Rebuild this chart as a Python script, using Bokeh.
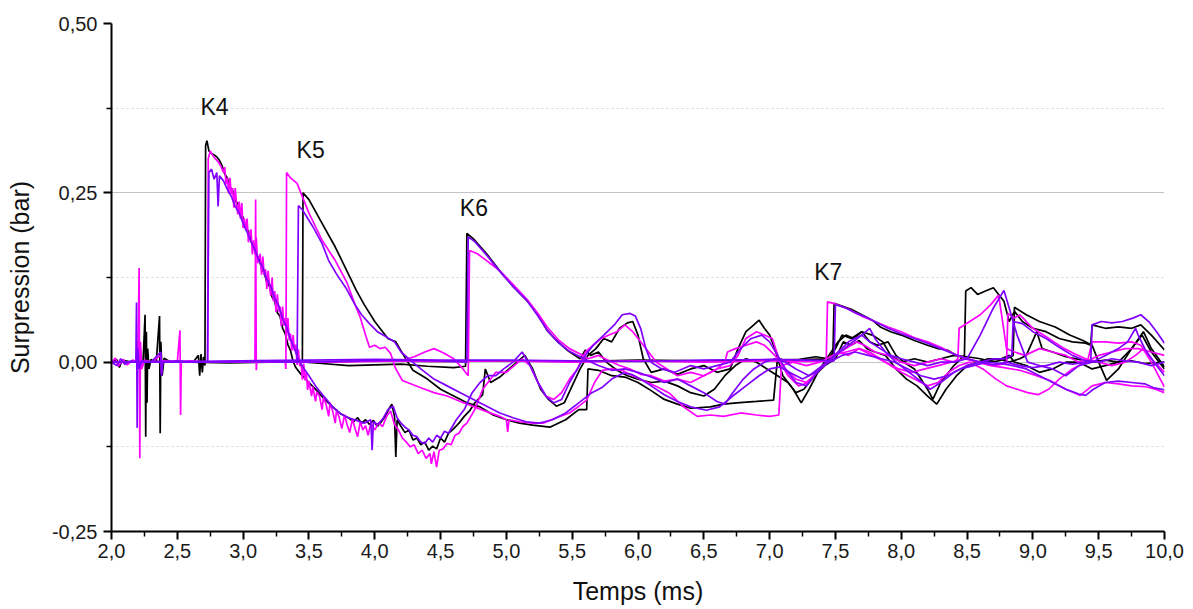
from bokeh.plotting import figure
from bokeh.models import FixedTicker, Range1d, CustomJSTickFormatter
from bokeh.embed import file_html
from bokeh.resources import INLINE
from bokeh.core.properties import value

# ---------------- data (time in ms, overpressure in bar) ----------------
k4_black = [(2.00,0.000),(2.04,0.004),(2.06,-0.008),(2.08,0.003),(2.15,0.000),(2.24,0.002),(2.255,0.070),(2.26,-0.110),(2.265,0.045),(2.27,-0.060),(2.275,0.020),(2.285,-0.010),(2.30,0.004),(2.34,0.000),(2.365,0.068),(2.37,-0.105),(2.375,0.030),(2.385,-0.020),(2.40,0.006),(2.45,0.000),(2.62,0.000),(2.66,0.010),(2.67,-0.020),(2.68,0.012),(2.69,-0.015),(2.70,0.008),(2.71,-0.005),(2.715,0.320),(2.725,0.327),(2.74,0.312),(2.76,0.308),(2.78,0.306),(2.80,0.303),(2.82,0.298),(2.84,0.290),(2.86,0.278),(2.88,0.272),(2.90,0.258),(2.92,0.254),(2.94,0.238),(2.96,0.234),(2.98,0.218),(3.00,0.214),(3.02,0.198),(3.04,0.194),(3.06,0.178),(3.08,0.174),(3.10,0.158),(3.12,0.154),(3.14,0.138),(3.16,0.132),(3.18,0.118),(3.20,0.112),(3.22,0.096),(3.24,0.090),(3.26,0.073),(3.28,0.068),(3.30,0.050),(3.32,0.042),(3.34,0.026),(3.36,0.017),(3.38,0.001),(3.40,-0.008),(3.44,-0.018),(3.50,-0.030),(3.56,-0.042),(3.62,-0.055),(3.68,-0.066),(3.74,-0.076),(3.80,-0.082),(3.84,-0.088),(3.87,-0.082),(3.90,-0.090),(3.93,-0.085),(3.96,-0.092),(3.99,-0.086),(4.02,-0.095),(4.05,-0.088),(4.08,-0.080),(4.11,-0.068),(4.13,-0.062),(4.15,-0.080),(4.16,-0.140),(4.17,-0.085),(4.20,-0.095),(4.23,-0.104),(4.26,-0.100),(4.29,-0.115),(4.32,-0.112),(4.35,-0.122),(4.38,-0.118),(4.41,-0.130),(4.44,-0.124),(4.47,-0.128),(4.50,-0.112),(4.53,-0.118),(4.56,-0.105),(4.60,-0.098),(4.64,-0.090),(4.68,-0.080),(4.72,-0.072),(4.76,-0.060),(4.80,-0.052),(4.82,-0.048),(4.84,-0.010),(4.88,-0.030),(4.95,-0.022),(5.02,-0.010),(5.08,0.000),(5.14,0.010),(5.20,-0.010),(5.26,-0.040),(5.32,-0.055),(5.38,-0.065),(5.44,-0.060),(5.50,-0.035),(5.56,-0.010),(5.62,0.010),(5.68,0.020),(5.74,0.035),(5.80,0.030),(5.86,0.050),(5.92,0.058),(5.96,0.060),(6.00,0.040),(6.04,0.005),(6.10,-0.015),(6.20,-0.010),(6.30,-0.018),(6.40,-0.010),(6.50,-0.005),(6.60,-0.015),(6.70,-0.010),(6.76,0.020),(6.82,0.045),(6.88,0.055),(6.92,0.062),(6.96,0.050),(7.00,0.040),(7.04,0.020),(7.10,-0.020),(7.18,-0.040),(7.24,-0.060),(7.30,-0.040),(7.38,-0.010),(7.45,0.010),(7.52,0.030),(7.58,0.040),(7.64,0.035),(7.70,0.045),(7.76,0.030),(7.82,0.025),(7.90,0.030),(7.96,0.010),(8.02,0.000),(8.10,-0.010),(8.20,-0.040),(8.24,-0.055),(8.30,-0.030),(8.40,-0.005),(8.48,0.010),(8.49,0.105),(8.53,0.110),(8.58,0.100),(8.64,0.105),(8.70,0.110),(8.74,0.100),(8.78,0.090),(8.82,0.060),(8.86,0.075),(8.92,0.060),(9.00,0.050),(9.10,0.045),(9.20,0.035),(9.30,0.030),(9.40,0.028),(9.44,0.025),(9.45,0.055),(9.55,0.050),(9.65,0.052),(9.75,0.050),(9.82,0.055),(9.90,0.040),(10.00,0.018)]

k4_magenta = [(2.00,0.000),(2.03,0.006),(2.05,-0.006),(2.09,0.004),(2.12,-0.004),(2.16,0.003),(2.20,0.000),(2.21,0.139),(2.215,-0.142),(2.22,0.030),(2.23,-0.010),(2.25,0.003),(2.30,0.000),(2.375,0.010),(2.38,-0.016),(2.39,0.002),(2.50,0.000),(2.52,0.047),(2.525,-0.078),(2.53,0.000),(2.60,0.002),(2.70,0.000),(2.73,0.000),(2.735,0.300),(2.75,0.312),(2.77,0.305),(2.79,0.300),(2.81,0.296),(2.83,0.290),(2.85,0.280),(2.86,0.288),(2.87,0.263),(2.88,0.272),(2.89,0.249),(2.90,0.272),(2.91,0.248),(2.92,0.257),(2.93,0.228),(2.94,0.257),(2.95,0.234),(2.96,0.218),(2.97,0.237),(2.98,0.212),(2.99,0.235),(3.00,0.198),(3.01,0.212),(3.02,0.195),(3.03,0.212),(3.04,0.177),(3.05,0.190),(3.06,0.196),(3.07,0.159),(3.08,0.180),(3.09,0.159),(3.10,0.184),(3.11,0.146),(3.12,0.155),(3.13,0.160),(3.14,0.129),(3.15,0.156),(3.16,0.128),(3.17,0.137),(3.18,0.108),(3.19,0.135),(3.20,0.114),(3.21,0.098),(3.22,0.125),(3.23,0.090),(3.24,0.105),(3.25,0.074),(3.26,0.100),(3.27,0.075),(3.28,0.082),(3.29,0.053),(3.30,0.082),(3.31,0.054),(3.32,0.065),(3.33,0.038),(3.34,0.065),(3.35,0.032),(3.36,0.042),(3.37,0.017),(3.38,0.040),(3.39,0.017),(3.40,0.026),(3.41,-0.004),(3.42,0.019),(3.43,-0.006),(3.44,0.001),(3.45,-0.026),(3.46,-0.002),(3.47,-0.027),(3.48,-0.016),(3.49,-0.041),(3.50,-0.028),(3.52,-0.050),(3.53,-0.036),(3.55,-0.058),(3.56,-0.044),(3.58,-0.050),(3.60,-0.070),(3.61,-0.052),(3.63,-0.062),(3.65,-0.080),(3.66,-0.060),(3.68,-0.072),(3.70,-0.090),(3.71,-0.070),(3.73,-0.082),(3.75,-0.098),(3.77,-0.078),(3.79,-0.092),(3.81,-0.104),(3.83,-0.084),(3.85,-0.098),(3.87,-0.110),(3.89,-0.088),(3.91,-0.100),(3.93,-0.094),(3.95,-0.108),(3.97,-0.090),(4.00,-0.100),(4.03,-0.090),(4.06,-0.095),(4.09,-0.080),(4.12,-0.072),(4.15,-0.092),(4.18,-0.100),(4.21,-0.112),(4.24,-0.118),(4.27,-0.125),(4.30,-0.122),(4.33,-0.135),(4.36,-0.130),(4.39,-0.142),(4.42,-0.135),(4.43,-0.150),(4.45,-0.132),(4.47,-0.155),(4.49,-0.130),(4.52,-0.128),(4.55,-0.120),(4.58,-0.122),(4.61,-0.108),(4.64,-0.105),(4.67,-0.095),(4.70,-0.090),(4.73,-0.080),(4.76,-0.070),(4.80,-0.050),(4.82,-0.040),(4.86,-0.030),(4.92,-0.015),(5.00,-0.015),(5.06,-0.005),(5.12,0.005),(5.18,-0.005),(5.24,-0.030),(5.30,-0.050),(5.36,-0.055),(5.42,-0.045),(5.48,-0.025),(5.54,-0.010),(5.60,0.015),(5.66,0.025),(5.72,0.035),(5.78,0.040),(5.84,0.045),(5.90,0.055),(5.96,0.045),(6.02,0.030),(6.08,0.015),(6.14,0.000),(6.22,-0.010),(6.30,-0.020),(6.40,-0.015),(6.50,-0.020),(6.60,-0.010),(6.70,-0.005),(6.76,0.010),(6.82,0.035),(6.90,0.045),(6.96,0.040),(7.02,0.035),(7.08,0.000),(7.14,-0.020),(7.22,-0.035),(7.30,-0.030),(7.40,-0.005),(7.50,0.010),(7.58,0.020),(7.66,0.030),(7.72,0.025),(7.80,0.015),(7.90,0.010),(8.00,0.000),(8.10,-0.005),(8.20,0.000),(8.30,0.005),(8.40,0.000),(8.43,0.005),(8.44,0.050),(8.52,0.060),(8.60,0.070),(8.68,0.085),(8.74,0.099),(8.77,0.060),(8.80,0.020),(8.86,0.015),(8.94,0.010),(9.05,0.020),(9.15,0.015),(9.25,0.010),(9.35,0.000),(9.42,0.005),(9.45,0.030),(9.55,0.030),(9.65,0.028),(9.75,0.030),(9.82,0.025),(9.90,0.000),(10.00,-0.037)]

k4_purple = [(2.00,0.000),(2.04,-0.005),(2.07,0.005),(2.10,-0.003),(2.15,0.002),(2.185,0.000),(2.19,0.088),(2.195,-0.097),(2.20,0.020),(2.21,-0.010),(2.23,0.002),(2.30,0.000),(2.375,0.015),(2.38,-0.020),(2.39,0.000),(2.50,0.002),(2.60,0.000),(2.73,0.000),(2.74,0.280),(2.76,0.285),(2.78,0.270),(2.80,0.280),(2.81,0.230),(2.82,0.275),(2.85,0.268),(2.88,0.255),(2.91,0.245),(2.94,0.230),(2.97,0.220),(3.00,0.205),(3.03,0.192),(3.06,0.178),(3.09,0.166),(3.12,0.150),(3.15,0.140),(3.18,0.122),(3.21,0.112),(3.24,0.094),(3.27,0.084),(3.30,0.064),(3.33,0.052),(3.36,0.034),(3.39,0.020),(3.42,0.004),(3.45,-0.006),(3.50,-0.020),(3.56,-0.038),(3.62,-0.052),(3.68,-0.066),(3.74,-0.076),(3.80,-0.082),(3.86,-0.086),(3.92,-0.090),(3.97,-0.085),(3.98,-0.130),(3.99,-0.088),(4.02,-0.092),(4.06,-0.084),(4.10,-0.070),(4.14,-0.065),(4.17,-0.082),(4.20,-0.090),(4.23,-0.096),(4.26,-0.100),(4.29,-0.108),(4.32,-0.110),(4.35,-0.118),(4.38,-0.120),(4.41,-0.112),(4.44,-0.118),(4.47,-0.108),(4.50,-0.112),(4.53,-0.102),(4.56,-0.105),(4.62,-0.085),(4.68,-0.070),(4.74,-0.045),(4.80,-0.030),(4.86,-0.020),(4.92,-0.020),(4.98,-0.010),(5.05,0.000),(5.12,0.015),(5.18,-0.005),(5.24,-0.030),(5.30,-0.050),(5.36,-0.060),(5.42,-0.055),(5.48,-0.030),(5.54,-0.010),(5.60,0.010),(5.66,0.025),(5.74,0.040),(5.82,0.055),(5.88,0.070),(5.94,0.072),(5.98,0.068),(6.02,0.050),(6.06,0.020),(6.10,0.000),(6.18,-0.010),(6.28,-0.015),(6.40,-0.005),(6.50,-0.010),(6.60,-0.005),(6.70,0.000),(6.78,0.020),(6.86,0.035),(6.94,0.040),(7.00,0.030),(7.06,0.010),(7.12,-0.010),(7.20,-0.030),(7.28,-0.035),(7.36,-0.015),(7.44,0.000),(7.52,0.015),(7.60,0.030),(7.70,0.040),(7.76,0.030),(7.84,0.020),(7.92,0.010),(8.00,0.005),(8.10,0.000),(8.20,-0.005),(8.30,0.000),(8.40,0.000),(8.50,0.005),(8.60,0.040),(8.70,0.080),(8.78,0.106),(8.82,0.080),(8.88,0.040),(8.96,0.000),(9.05,-0.005),(9.15,-0.010),(9.25,-0.020),(9.35,-0.005),(9.45,0.000),(9.55,0.010),(9.65,0.020),(9.72,0.030),(9.78,0.050),(9.80,0.040),(9.85,0.020),(9.92,0.000),(10.00,-0.020)]

k5_black = [(2.00,0.000),(2.30,0.001),(2.60,0.000),(2.90,-0.001),(3.20,0.000),(3.44,0.001),(3.45,0.000),(3.455,0.250),(3.50,0.240),(3.60,0.205),(3.70,0.170),(3.80,0.130),(3.86,0.106),(3.92,0.085),(4.00,0.060),(4.06,0.045),(4.10,0.035),(4.16,0.030),(4.22,0.010),(4.29,-0.012),(4.40,-0.025),(4.50,-0.040),(4.60,-0.050),(4.70,-0.060),(4.80,-0.066),(4.90,-0.078),(5.00,-0.085),(5.10,-0.090),(5.20,-0.093),(5.33,-0.096),(5.45,-0.085),(5.55,-0.070),(5.61,-0.070),(5.62,-0.010),(5.70,-0.012),(5.80,-0.020),(5.90,-0.022),(6.00,-0.030),(6.10,-0.042),(6.20,-0.055),(6.30,-0.062),(6.40,-0.068),(6.55,-0.066),(6.65,-0.062),(6.75,-0.060),(6.90,-0.058),(7.03,-0.056),(7.06,0.006),(7.15,0.000),(7.25,0.005),(7.35,0.008),(7.45,0.005),(7.50,0.020),(7.55,0.040),(7.62,0.035),(7.70,0.045),(7.78,0.040),(7.86,0.030),(7.92,0.010),(8.00,0.000),(8.10,0.005),(8.20,0.000),(8.30,0.005),(8.40,0.010),(8.50,0.008),(8.60,0.005),(8.70,0.000),(8.80,0.005),(8.85,0.010),(8.86,0.081),(8.95,0.070),(9.05,0.060),(9.17,0.052),(9.28,0.040),(9.38,0.032),(9.45,0.025),(9.50,0.000),(9.56,-0.027),(9.65,-0.010),(9.75,0.020),(9.84,0.045),(9.90,0.020),(10.00,-0.007)]

k5_magenta = [(2.00,0.000),(2.40,0.001),(2.80,0.000),(3.09,0.000),(3.095,0.240),(3.10,-0.012),(3.105,0.002),(3.20,0.000),(3.32,0.000),(3.325,-0.010),(3.33,0.280),(3.36,0.272),(3.41,0.264),(3.50,0.220),(3.60,0.180),(3.70,0.150),(3.79,0.117),(3.85,0.085),(3.89,0.066),(3.93,0.040),(3.96,0.022),(4.00,0.025),(4.04,0.020),(4.08,0.022),(4.12,0.013),(4.16,-0.010),(4.21,-0.027),(4.34,-0.037),(4.45,-0.045),(4.55,-0.050),(4.65,-0.058),(4.72,-0.063),(4.85,-0.073),(4.95,-0.080),(5.00,-0.085),(5.01,-0.103),(5.02,-0.085),(5.10,-0.088),(5.20,-0.090),(5.28,-0.090),(5.38,-0.082),(5.48,-0.075),(5.55,-0.065),(5.61,-0.056),(5.67,-0.030),(5.73,-0.012),(5.80,-0.010),(5.88,-0.012),(5.96,-0.020),(6.04,-0.027),(6.14,-0.036),(6.24,-0.046),(6.34,-0.065),(6.45,-0.080),(6.55,-0.078),(6.65,-0.080),(6.78,-0.075),(6.90,-0.078),(7.00,-0.080),(7.07,-0.078),(7.09,-0.005),(7.18,0.000),(7.28,-0.005),(7.38,0.000),(7.48,0.010),(7.58,0.015),(7.68,0.020),(7.78,0.010),(7.88,0.000),(7.98,-0.010),(8.08,-0.015),(8.18,-0.010),(8.28,-0.005),(8.38,0.000),(8.48,0.005),(8.58,0.000),(8.68,-0.005),(8.78,-0.008),(8.90,-0.012),(9.00,-0.018),(9.13,-0.027),(9.25,-0.040),(9.36,-0.049),(9.45,-0.035),(9.55,-0.030),(9.65,-0.032),(9.75,-0.035),(9.85,-0.036),(9.93,-0.040),(10.00,-0.045)]

k5_purple = [(2.00,0.000),(2.40,0.001),(2.80,0.000),(3.10,0.001),(3.41,0.000),(3.42,0.231),(3.45,0.225),(3.53,0.200),(3.60,0.175),(3.65,0.150),(3.71,0.130),(3.78,0.110),(3.85,0.085),(3.90,0.070),(3.96,0.057),(4.02,0.045),(4.09,0.037),(4.15,0.030),(4.20,0.015),(4.27,0.003),(4.35,-0.010),(4.45,-0.025),(4.55,-0.035),(4.65,-0.045),(4.75,-0.055),(4.85,-0.065),(4.95,-0.075),(5.05,-0.082),(5.15,-0.088),(5.25,-0.090),(5.35,-0.085),(5.45,-0.075),(5.55,-0.060),(5.65,-0.045),(5.73,-0.037),(5.80,-0.025),(5.89,-0.016),(5.95,-0.018),(6.02,-0.025),(6.10,-0.035),(6.20,-0.048),(6.30,-0.058),(6.40,-0.066),(6.52,-0.071),(6.62,-0.066),(6.72,-0.050),(6.82,-0.035),(6.92,-0.020),(7.00,-0.010),(7.08,-0.007),(7.15,-0.015),(7.25,-0.025),(7.35,-0.015),(7.45,0.000),(7.55,0.010),(7.65,0.015),(7.75,0.010),(7.85,0.005),(7.95,0.000),(8.05,-0.010),(8.15,-0.020),(8.25,-0.025),(8.35,-0.020),(8.45,-0.010),(8.55,-0.005),(8.65,0.000),(8.75,-0.002),(8.85,-0.005),(8.95,-0.010),(9.05,-0.020),(9.15,-0.030),(9.25,-0.040),(9.35,-0.047),(9.40,-0.049),(9.46,-0.040),(9.55,-0.030),(9.65,-0.028),(9.75,-0.030),(9.85,-0.032),(9.92,-0.038),(10.00,-0.041)]

k6_black = [(2.00,0.000),(2.50,0.001),(3.00,0.000),(3.40,0.001),(3.60,-0.002),(3.80,-0.005),(4.00,-0.004),(4.20,-0.003),(4.40,-0.006),(4.60,-0.008),(4.69,-0.006),(4.70,0.190),(4.75,0.182),(4.85,0.160),(4.95,0.135),(5.05,0.112),(5.16,0.090),(5.24,0.070),(5.31,0.047),(5.38,0.032),(5.46,0.018),(5.52,0.010),(5.56,0.005),(5.60,0.018),(5.64,0.010),(5.70,0.015),(5.76,0.000),(5.84,-0.012),(5.92,-0.020),(6.00,-0.025),(6.10,-0.030),(6.20,-0.028),(6.30,-0.035),(6.40,-0.045),(6.50,-0.050),(6.58,-0.040),(6.66,-0.020),(6.74,-0.005),(6.82,0.005),(6.90,0.000),(6.98,-0.010),(7.06,-0.020),(7.14,-0.030),(7.20,-0.045),(7.26,-0.040),(7.34,-0.020),(7.42,-0.005),(7.50,0.005),(7.56,0.030),(7.62,0.025),(7.68,0.032),(7.74,0.020),(7.80,0.015),(7.88,0.010),(7.96,-0.010),(8.04,-0.025),(8.12,-0.035),(8.20,-0.050),(8.27,-0.062),(8.34,-0.040),(8.42,-0.020),(8.50,-0.005),(8.58,0.000),(8.66,0.005),(8.76,0.005),(8.82,0.010),(8.86,0.000),(8.95,-0.005),(9.05,-0.015),(9.15,-0.010),(9.25,0.000),(9.35,0.000),(9.45,-0.010),(9.55,-0.005),(9.65,0.000),(9.75,0.020),(9.83,0.040),(9.90,0.015),(10.00,-0.010)]

k6_magenta = [(2.00,0.000),(2.50,0.001),(3.00,0.000),(3.50,0.000),(4.00,0.001),(4.20,0.002),(4.30,0.008),(4.38,0.015),(4.45,0.020),(4.52,0.014),(4.60,0.005),(4.67,-0.010),(4.71,-0.020),(4.72,0.165),(4.78,0.160),(4.85,0.150),(4.95,0.135),(5.05,0.115),(5.16,0.092),(5.24,0.072),(5.31,0.052),(5.40,0.032),(5.48,0.020),(5.56,0.012),(5.62,0.005),(5.70,0.010),(5.78,0.002),(5.86,-0.005),(5.94,-0.010),(6.02,-0.018),(6.10,-0.020),(6.20,-0.028),(6.30,-0.025),(6.40,-0.030),(6.50,-0.020),(6.60,-0.010),(6.66,0.000),(6.68,0.015),(6.74,0.020),(6.82,0.025),(6.90,0.030),(6.96,0.025),(7.04,0.010),(7.12,-0.010),(7.20,-0.025),(7.28,-0.030),(7.36,-0.015),(7.44,0.000),(7.52,0.015),(7.60,0.010),(7.68,0.020),(7.76,0.015),(7.84,0.005),(7.92,-0.005),(8.00,-0.015),(8.10,-0.025),(8.20,-0.035),(8.28,-0.030),(8.36,-0.015),(8.44,-0.005),(8.52,0.000),(8.62,-0.010),(8.72,-0.025),(8.80,-0.035),(8.88,-0.040),(8.96,-0.045),(9.04,-0.048),(9.12,-0.040),(9.20,-0.025),(9.30,-0.010),(9.40,0.000),(9.50,0.010),(9.60,0.015),(9.70,0.020),(9.80,0.020),(9.90,0.015),(10.00,0.010)]

k6_purple = [(2.00,0.000),(2.50,0.000),(3.00,0.001),(3.50,0.000),(3.90,0.002),(4.20,0.003),(4.50,0.002),(4.70,0.000),(4.71,0.185),(4.76,0.178),(4.85,0.158),(4.95,0.134),(5.05,0.112),(5.16,0.090),(5.24,0.068),(5.31,0.047),(5.40,0.028),(5.48,0.016),(5.56,0.008),(5.62,0.002),(5.70,-0.005),(5.80,-0.012),(5.90,-0.010),(6.00,-0.015),(6.10,-0.022),(6.20,-0.030),(6.30,-0.025),(6.40,-0.035),(6.50,-0.045),(6.60,-0.058),(6.66,-0.062),(6.72,-0.045),(6.80,-0.025),(6.88,-0.010),(6.96,0.000),(7.04,0.005),(7.12,0.000),(7.20,-0.010),(7.30,-0.020),(7.40,-0.005),(7.50,0.010),(7.60,0.025),(7.70,0.040),(7.76,0.050),(7.80,0.035),(7.88,0.015),(7.96,0.000),(8.06,-0.015),(8.16,-0.030),(8.22,-0.040),(8.30,-0.030),(8.40,-0.015),(8.50,-0.005),(8.60,0.000),(8.70,0.005),(8.78,0.005),(8.84,0.010),(8.85,0.060),(8.92,0.057),(9.00,0.045),(9.10,0.035),(9.20,0.022),(9.30,0.010),(9.40,0.002),(9.50,0.000),(9.60,0.005),(9.70,0.002),(9.80,0.000),(9.90,-0.005),(10.00,0.000)]

k7_black = [(2.00,0.000),(2.50,0.000),(3.00,0.001),(3.50,0.000),(4.00,0.002),(4.50,0.001),(5.00,0.002),(5.50,0.001),(6.00,0.003),(6.50,0.002),(7.00,0.003),(7.30,0.004),(7.48,0.005),(7.49,0.087),(7.55,0.083),(7.62,0.078),(7.70,0.070),(7.78,0.062),(7.84,0.052),(7.92,0.045),(8.00,0.040),(8.10,0.032),(8.20,0.025),(8.28,0.020),(8.35,0.018),(8.42,0.010),(8.50,0.005),(8.58,0.000),(8.66,0.002),(8.74,0.005),(8.82,0.000),(8.90,0.005),(8.95,0.010),(9.03,0.045),(9.07,0.020),(9.15,0.015),(9.25,0.008),(9.35,0.004),(9.45,0.000),(9.55,0.003),(9.65,0.000),(9.75,0.002),(9.85,-0.002),(10.00,0.000)]

k7_magenta = [(2.00,0.000),(2.50,0.000),(3.00,0.001),(3.50,0.000),(4.00,0.002),(4.50,0.001),(5.00,0.002),(5.50,0.000),(6.00,0.002),(6.50,0.000),(7.00,0.002),(7.30,0.001),(7.43,0.002),(7.44,0.089),(7.50,0.086),(7.60,0.078),(7.70,0.068),(7.80,0.060),(7.90,0.052),(8.00,0.045),(8.10,0.036),(8.20,0.030),(8.30,0.022),(8.40,0.012),(8.50,0.005),(8.60,0.000),(8.70,-0.005),(8.80,-0.002),(8.81,0.072),(8.86,0.065),(8.90,0.070),(8.94,0.062),(9.00,0.050),(9.08,0.040),(9.16,0.030),(9.24,0.020),(9.32,0.012),(9.40,0.005),(9.50,0.000),(9.60,-0.005),(9.70,0.000),(9.78,0.010),(9.84,0.020),(9.90,0.005),(10.00,-0.015)]

k7_purple = [(2.00,0.000),(2.50,0.001),(3.00,0.002),(3.50,0.003),(4.00,0.004),(4.50,0.003),(5.00,0.003),(5.50,0.002),(6.00,0.001),(6.50,0.003),(7.00,0.004),(7.30,0.003),(7.49,0.002),(7.50,0.085),(7.58,0.080),(7.66,0.072),(7.74,0.066),(7.82,0.058),(7.90,0.050),(8.00,0.042),(8.10,0.035),(8.20,0.028),(8.30,0.020),(8.40,0.012),(8.50,0.005),(8.60,0.000),(8.70,-0.004),(8.80,0.000),(8.90,-0.005),(9.00,-0.008),(9.10,-0.005),(9.20,0.000),(9.30,-0.003),(9.40,0.000),(9.44,0.002),(9.45,0.055),(9.52,0.060),(9.60,0.058),(9.68,0.060),(9.76,0.065),(9.82,0.070),(9.88,0.060),(9.94,0.045),(10.00,0.028)]

label_x = [2.783, 3.513, 4.753, 7.445]
label_y = [0.376, 0.313, 0.227, 0.133]
label_text = ["K4", "K5", "K6", "K7"]

x_ticks = [2.0, 2.5, 3.0, 3.5, 4.0, 4.5, 5.0, 5.5, 6.0, 6.5, 7.0, 7.5, 8.0, 8.5, 9.0, 9.5, 10.0]
x_minor = [2.25, 2.75, 3.25, 3.75, 4.25, 4.75, 5.25, 5.75, 6.25, 6.75, 7.25, 7.75, 8.25, 8.75, 9.25, 9.75]
y_ticks = [-0.25, 0.0, 0.25, 0.5]
y_minor = [-0.125, 0.125, 0.375]

BLACK = "#000000"
MAGENTA = "#FF00FF"
PURPLE = "#8000FF"

series = [
    (k4_black, BLACK), (k5_black, BLACK), (k6_black, BLACK), (k7_black, BLACK),
    (k4_magenta, MAGENTA), (k5_magenta, MAGENTA), (k6_magenta, MAGENTA), (k7_magenta, MAGENTA),
    (k4_purple, PURPLE), (k5_purple, PURPLE), (k6_purple, PURPLE), (k7_purple, PURPLE),
]

FONT = "Liberation Sans"

p = figure(width=1190, height=609, output_backend="svg", toolbar_location=None,
           x_range=Range1d(2.0, 10.0), y_range=Range1d(-0.25, 0.5),
           min_border_left=111, min_border_right=26, min_border_top=23, min_border_bottom=78)
p.outline_line_color = None
p.background_fill_color = "white"

# grid
p.xgrid.visible = False
p.ygrid.ticker = FixedTicker(ticks=[0.0, 0.25], minor_ticks=y_minor)
p.ygrid.grid_line_color = "#c4c4c4"
p.ygrid.grid_line_width = 1.2
p.ygrid.minor_grid_line_color = "#d4d4d4"
p.ygrid.minor_grid_line_dash = "2 3"

for pts, col in series:
    xs = [a for a, b in pts]
    ys = [b for a, b in pts]
    p.line(xs, ys, line_color=col, line_width=1.7)

p.text(x=label_x, y=label_y, text=label_text, text_align="center", text_baseline="middle",
       text_font=value(FONT), text_font_size="23px", text_color="#111111")

for ax in (p.xaxis[0], p.yaxis[0]):
    ax.axis_line_width = 2
    ax.axis_line_color = "black"
    ax.major_tick_line_width = 2
    ax.minor_tick_line_width = 1.5
    ax.major_tick_in = 0
    ax.major_tick_out = 8
    ax.minor_tick_in = 0
    ax.minor_tick_out = 5
    ax.major_label_text_font = FONT
    ax.major_label_text_font_size = "20px"
    ax.major_label_text_color = "#1a1a1a"
    ax.axis_label_text_font = FONT
    ax.axis_label_text_font_size = "25px"
    ax.axis_label_text_font_style = "normal"
    ax.axis_label_text_color = "#111111"

p.xaxis.ticker = FixedTicker(ticks=x_ticks, minor_ticks=x_minor)
p.yaxis.ticker = FixedTicker(ticks=y_ticks, minor_ticks=y_minor)
p.xaxis.formatter = CustomJSTickFormatter(code="return tick.toFixed(1).replace('.', ',');")
p.yaxis.formatter = CustomJSTickFormatter(code="return tick.toFixed(2).replace('.', ',');")
p.xaxis.axis_label = "Temps (ms)"
p.yaxis.axis_label = "Surpression (bar)"
p.xaxis.major_label_standoff = 4
p.yaxis.major_label_standoff = 6
p.xaxis.axis_label_standoff = 16
p.yaxis.axis_label_standoff = 15

open("out.html", "w").write(file_html(p, INLINE))
